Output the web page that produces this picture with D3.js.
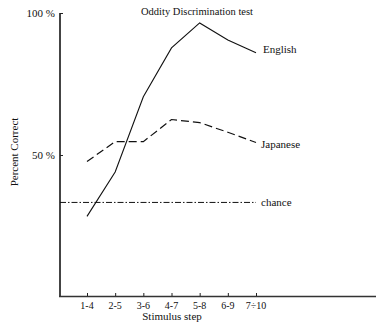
<!DOCTYPE html>
<html><head><meta charset="utf-8">
<script src="https://cdn.jsdelivr.net/npm/d3@7/dist/d3.min.js"></script>
<style>body{margin:0;background:#fff}svg{display:block}text{font-family:"Liberation Serif","DejaVu Serif",serif;fill:#111}</style>
</head><body><svg id="c" width="376" height="322"></svg>
<script>
const steps = ["1-4","2-5","3-6","4-7","5-8","6-9","7-10"];
const stepLabels = ["1-4","2-5","3-6","4-7","5-8","6-9","7÷10"];
const english = [28.4, 44, 70.5, 87.7, 96.5, 90.5, 86];
const japanese = [47.7, 54.7, 54.7, 62.5, 61.4, 58, 54.4];
const chance = 33.3;
const yTicks = [50, 100];

const svg = d3.select("#c");
const x = d3.scalePoint().domain(steps).range([87, 256]);
const y = d3.scaleLinear().domain([0, 100]).range([297, 13]);

// axes
svg.append("line").attr("x1",60).attr("x2",60).attr("y1",y(100)).attr("y2",y(0))
  .attr("stroke","#444").attr("stroke-width",2);
svg.append("line").attr("x1",59).attr("x2",376).attr("y1",296.5).attr("y2",296.5)
  .attr("stroke","#333").attr("stroke-width",1.3);

const ya = svg.append("g").attr("transform","translate(60,0)")
  .call(d3.axisRight(y).tickValues(yTicks).tickSize(3).tickFormat(""));
ya.select(".domain").remove();
ya.selectAll("line").attr("stroke","#222");
svg.selectAll(".ylab").data(yTicks).join("text").attr("class","ylab")
  .attr("x",55).attr("y",d=>y(d)+4).attr("text-anchor","end").attr("font-size",11)
  .text(d=>d+" %");

const xa = svg.append("g").attr("transform","translate(0,296)")
  .call(d3.axisTop(x).tickSize(3).tickFormat(""));
xa.select(".domain").remove();
xa.selectAll("line").attr("stroke","#222");
svg.selectAll(".xlab").data(steps).join("text").attr("class","xlab")
  .attr("x",d=>x(d)).attr("y",309).attr("text-anchor","middle").attr("font-size",10)
  .text((d,i)=>stepLabels[i]);

const line = d3.line().x((d,i)=>x(steps[i])).y(d=>y(d));
svg.append("path").attr("d",line(english)).attr("fill","none").attr("stroke","#111").attr("stroke-width",1.1);
svg.append("path").attr("d",line(japanese)).attr("fill","none").attr("stroke","#111").attr("stroke-width",1.2)
  .attr("stroke-dasharray","8,4");
svg.append("line").attr("x1",60).attr("x2",x("7-10")).attr("y1",y(chance)).attr("y2",y(chance))
  .attr("stroke","#111").attr("stroke-width",1).attr("stroke-dasharray","6,2,1.5,2");

svg.append("text").attr("x",x("7-10")+7).attr("y",y(english[6])+0).attr("font-size",11).text("English");
svg.append("text").attr("x",x("7-10")+5).attr("y",y(japanese[6])+5).attr("font-size",11).text("Japanese");
svg.append("text").attr("x",x("7-10")+5).attr("y",y(chance)+4).attr("font-size",11).text("chance");

svg.append("text").attr("x",197).attr("y",15).attr("text-anchor","middle").attr("font-size",10.5).text("Oddity Discrimination test");
svg.append("text").attr("x",172).attr("y",320).attr("text-anchor","middle").attr("font-size",11).text("Stimulus step");
svg.append("text").attr("transform","translate(18,152) rotate(-90)").attr("text-anchor","middle").attr("font-size",11).text("Percent Correct");
</script></body></html>
